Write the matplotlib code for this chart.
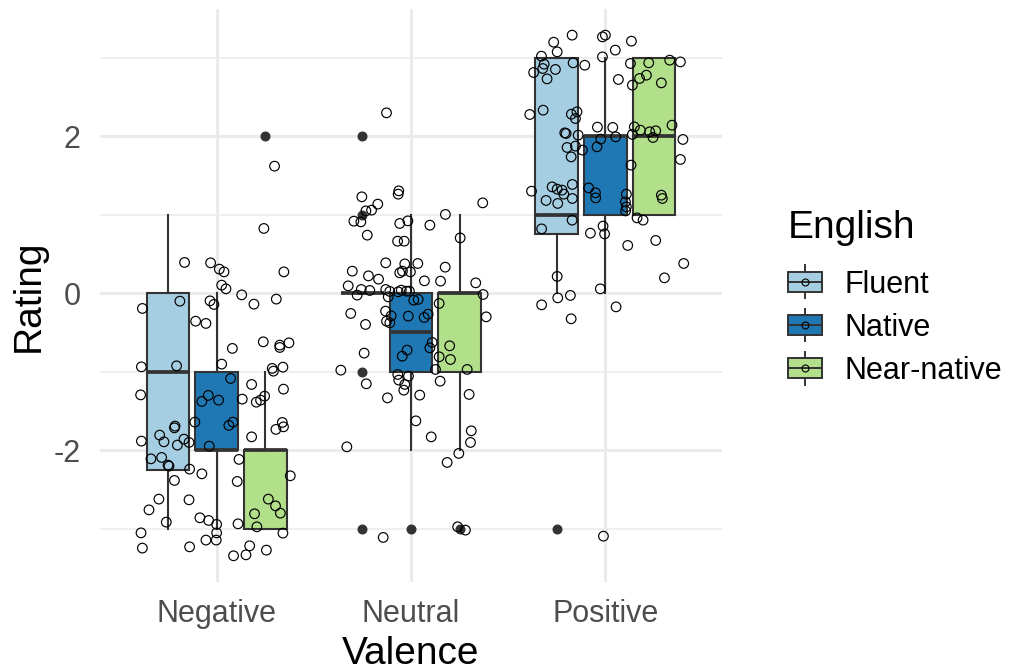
import matplotlib.pyplot as plt
import numpy as np
from matplotlib.legend_handler import HandlerBase
from matplotlib.patches import Rectangle, Patch
from matplotlib.lines import Line2D

plt.rcParams['font.family'] = ['Liberation Sans', 'DejaVu Sans']

valence = ["Negative", "Neutral", "Positive"]
english = ["Fluent", "Native", "Near-native"]
colors = ["#A6CEE3", "#1F78B4", "#B2DF8A"]

# box stats, rows = valence, cols = english group
q1 = [[-2.25, -2, -3], [0, -1, -1], [0.75, 1, 1]]
med = [[-1, -2, -2], [0, -0.5, 0], [1, 2, 2]]
q3 = [[0, -1, -2], [0, 0, 0], [3, 2, 3]]
whislo = [[-3, -3, -3], [0, -2, -2], [0, 0, 1]]
whishi = [[1, 0, -1], [0, 1, 1], [3, 3, 3]]
outliers = [[[], [], [2]], [[2, 1, -1, -3], [-3], [-3]], [[-3], [], []]]

# jittered raw ratings: horizontal offset from category centre, jittered rating
neg_dx = [0.243, -0.165, -0.031, 0.014, 0.038, 0.346, 0.026, 0.048, 0.129, 0.307,
          -0.189, -0.034, -0.014, 0.192, -0.382, -0.108, -0.055, 0.081, 0.240, 0.325,
          0.325, 0.372, -0.387, -0.206, 0.026, 0.286, 0.292, 0.341, 0.072, 0.180,
          0.344, -0.391, -0.043, -0.076, 0.010, 0.132, 0.204, 0.226, 0.247, -0.112,
          -0.214, -0.217, 0.084, 0.063, 0.338, 0.344, 0.305, -0.293, -0.271, -0.387,
          -0.168, -0.202, -0.142, 0.180, -0.038, -0.338, -0.283, -0.250, -0.245, -0.139,
          0.115, -0.076, 0.106, 0.379, -0.217, -0.297, -0.142, -0.348, 0.266, 0.303,
          0.328, 0.195, -0.259, -0.086, -0.041, 0.000, 0.110, 0.207, 0.000, -0.389,
          -0.002, -0.055, 0.341, -0.382, -0.139, 0.170, 0.087, 0.151, 0.256, 0.298]
neg_y = [0.824, 0.391, 0.386, 0.306, 0.271, 0.271, 0.102, 0.055, -0.022, -0.076,
         -0.102, -0.098, -0.144, -0.140, -0.195, -0.357, -0.386, -0.704, -0.620, -0.662,
         -0.692, -0.633, -0.939, -0.926, -0.904, -0.959, -0.994, -0.943, -1.087, -1.163,
         -1.223, -1.296, -1.303, -1.380, -1.363, -1.350, -1.389, -1.363, -1.312, -1.643,
         -1.694, -1.716, -1.643, -1.685, -1.647, -1.703, -1.736, -1.809, -1.894, -1.885,
         -1.860, -1.936, -1.902, -1.831, -1.949, -2.111, -2.093, -2.191, -2.204, -2.242,
         -2.118, -2.302, -2.399, -2.327, -2.386, -2.624, -2.633, -2.761, -2.624, -2.710,
         -2.803, -2.811, -2.917, -2.862, -2.896, -2.946, -2.939, -2.977, -3.054, -3.054,
         -3.146, -3.146, -3.057, -3.248, -3.232, -3.219, -3.346, -3.334, -3.274, 1.618]

neu_dx = [-0.126, -0.253, -0.063, -0.066, -0.171, -0.203, -0.232, -0.294, -0.258, 0.369,
          0.177, -0.016, -0.058, 0.097, -0.225, 0.253, -0.069, -0.035, -0.130, -0.032,
          0.035, -0.302, -0.058, -0.044, -0.003, 0.176, -0.219, -0.167, 0.069, 0.152,
          0.333, -0.323, -0.256, -0.212, -0.277, -0.130, -0.109, -0.117, -0.066, -0.050,
          -0.023, -0.008, 0.014, 0.037, 0.371, 0.145, -0.310, -0.131, -0.102, -0.126,
          -0.109, -0.014, 0.068, 0.088, 0.387, -0.234, 0.109, 0.097, 0.199, -0.020,
          -0.045, 0.145, 0.203, -0.241, -0.361, 0.126, 0.289, -0.068, -0.013, -0.063,
          -0.032, -0.037, -0.230, 0.150, -0.121, 0.045, 0.299, 0.025, 0.104, 0.310,
          0.306, -0.330, 0.246, 0.186, 0.240, 0.280, -0.143]
neu_y = [2.297, 1.227, 1.303, 1.261, 1.134, 1.057, 1.048, 0.917, 0.908, 1.150,
         1.003, 0.921, 0.888, 0.866, 0.739, 0.704, 0.662, 0.662, 0.386, 0.373,
         0.378, 0.280, 0.259, 0.280, 0.271, 0.331, 0.220, 0.178, 0.157, 0.153,
         0.131, 0.093, 0.047, 0.034, -0.025, 0.047, 0.022, -0.047, 0.017, 0.038,
         0.025, 0.025, -0.089, -0.080, -0.017, -0.131, -0.259, -0.229, -0.289, -0.357,
         -0.378, -0.293, -0.310, -0.268, -0.302, -0.399, -0.628, -0.697, -0.671, -0.726,
         -0.803, -0.811, -0.845, -0.764, -0.981, -0.972, -0.972, -1.036, -1.057, -1.108,
         -1.163, -1.236, -1.155, -1.121, -1.334, -1.299, -1.290, -1.627, -1.831, -1.754,
         -1.902, -1.958, -2.042, -2.157, -2.977, -3.019, -3.112]

pos_dx = [-0.171, -0.266, -0.248, -0.015, 0.000, 0.051, 0.134, -0.015, -0.329, -0.315,
          -0.322, -0.257, -0.369, -0.300, -0.166, -0.106, 0.067, 0.129, 0.139, 0.176,
          0.211, 0.223, 0.331, 0.386, 0.288, -0.389, -0.320, -0.175, -0.146, -0.154,
          -0.209, -0.202, -0.140, -0.197, -0.154, -0.176, -0.118, -0.041, 0.038, 0.053,
          -0.024, -0.043, 0.132, 0.149, 0.180, 0.228, 0.259, 0.245, 0.139, 0.343,
          0.399, 0.386, -0.380, -0.274, -0.248, -0.223, -0.214, -0.170, -0.170, -0.305,
          -0.245, -0.086, -0.051, -0.050, 0.108, 0.103, 0.108, 0.104, 0.288, 0.293,
          -0.171, 0.163, 0.194, -0.328, -0.077, -0.012, -0.004, 0.115, 0.259, 0.403,
          0.304, -0.248, -0.245, -0.180, -0.328, -0.176, -0.026, 0.055, -0.010]
pos_y = [3.287, 3.197, 3.074, 3.265, 3.287, 3.096, 3.210, 3.010, 3.019, 2.917,
         2.862, 2.850, 2.811, 2.730, 2.934, 2.904, 2.722, 2.926, 2.650, 2.735,
         2.777, 2.934, 2.968, 2.946, 2.679, 2.276, 2.331, 2.280, 2.310, 2.225,
         2.042, 2.034, 2.013, 1.856, 1.873, 1.736, 1.822, 2.115, 2.111, 1.991,
         1.962, 1.864, 1.631, 2.118, 2.076, 2.055, 2.068, 1.983, 2.022, 2.140,
         1.958, 1.703, 1.299, 1.354, 1.325, 1.312, 1.261, 1.385, 1.206, 1.181,
         1.143, 1.341, 1.278, 1.214, 1.261, 1.163, 1.099, 1.048, 1.248, 1.206,
         0.930, 0.959, 0.930, 0.819, 0.764, 0.854, 0.755, 0.608, 0.671, 0.378,
         0.195, 0.213, -0.060, -0.029, -0.149, -0.327, 0.055, -0.175, -3.096]

edge = "#333333"
dodge = 0.25
box_w = 0.22


class BoxKey(HandlerBase):
    # mini boxplot key like ggplot's draw_key_boxplot + point
    def create_artists(self, legend, orig_handle, xdescent, ydescent,
                       width, height, fontsize, trans):
        x0, y0 = -xdescent, -ydescent
        xm, ym = x0 + width / 2, y0 + height / 2
        ext = 4.5
        wl = Line2D([xm, xm], [y0 - ext, y0 + height + ext], color=edge, lw=1.4)
        rect = Rectangle((x0, y0), width, height, facecolor=orig_handle.get_facecolor(),
                         edgecolor=edge, lw=1.4)
        ml = Line2D([x0, x0 + width], [ym, ym], color=edge, lw=1.4)
        pt = Line2D([xm], [ym], marker='o', ms=5, mfc='none', mec='black', mew=0.8)
        arts = [wl, rect, ml, pt]
        for a in arts:
            a.set_transform(trans)
        return arts


fig = plt.figure(figsize=(10.09, 6.71), dpi=100)
ax = fig.add_axes([100 / 1009, 1 - 582 / 671, 622 / 1009, 573 / 671])

for i in range(3):
    for j in range(3):
        st = dict(whislo=whislo[i][j], q1=q1[i][j], med=med[i][j], q3=q3[i][j],
                  whishi=whishi[i][j], fliers=outliers[i][j])
        ax.bxp([st], positions=[i + 1 + (j - 1) * dodge], widths=box_w,
               patch_artist=True, showcaps=False, manage_ticks=False,
               boxprops=dict(facecolor=colors[j], edgecolor=edge, linewidth=1.5),
               medianprops=dict(color=edge, linewidth=2.7, solid_capstyle='butt'),
               whiskerprops=dict(color=edge, linewidth=1.5),
               flierprops=dict(marker='o', markerfacecolor=edge, markeredgecolor=edge,
                               markersize=6.2),
               zorder=3)

for i, (dx, y) in enumerate([(neg_dx, neg_y), (neu_dx, neu_y), (pos_dx, pos_y)]):
    ax.scatter(i + 1 + np.array(dx), y, s=48, facecolors='none', edgecolors='black',
               linewidths=0.85, zorder=4)

ax.set_xlim(0.4, 3.6)
ax.set_ylim(-3.68, 3.62)
ax.set_xticks([1, 2, 3])
ax.set_xticklabels(valence)
ax.set_yticks([-2, 0, 2])
ax.set_yticklabels(["-2", "0", "2"])
ax.set_yticks([-3, -1, 1, 3], minor=True)
ax.grid(True, which='major', color='#EBEBEB', linewidth=2.2, zorder=0)
ax.grid(True, which='minor', axis='y', color='#EBEBEB', linewidth=1.1, zorder=0)
ax.set_axisbelow(True)
for s in ax.spines.values():
    s.set_visible(False)
ax.tick_params(axis='both', which='both', length=0, labelsize=22, colors='#4D4D4D')
ax.tick_params(axis='y', pad=14)
ax.tick_params(axis='x', pad=12.5)
ax.set_xlabel("Valence", fontsize=28, labelpad=4.5)
ax.set_ylabel("Rating", fontsize=28, labelpad=4.5)

handles = [Patch(facecolor=c) for c in colors]
leg = fig.legend(handles, english, handler_map={Patch: BoxKey()},
                 loc='upper left', bbox_to_anchor=(788 / 1009, 1 - 210 / 671),
                 frameon=False, fontsize=22, title="English", title_fontsize=28,
                 alignment='left', handlelength=1.1, handleheight=0.65,
                 handletextpad=0.75, labelspacing=0.43, borderpad=0, borderaxespad=0)
# extra room between legend title and keys
leg._legend_box.sep = 17

fig.savefig("out.png", dpi=100)
